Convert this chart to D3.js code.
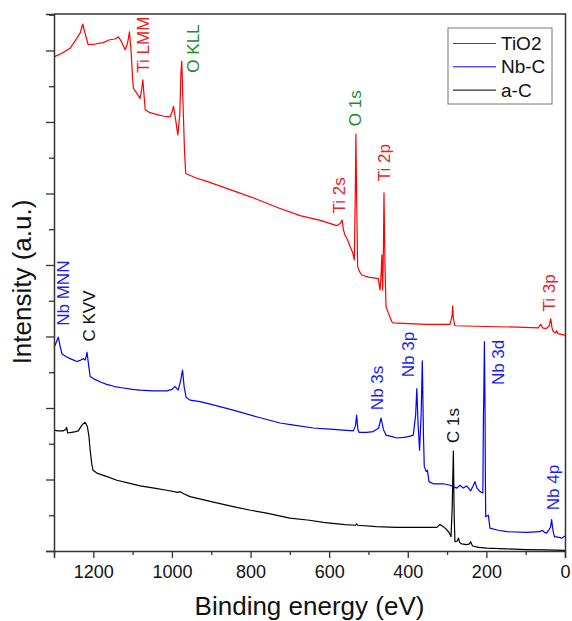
<!DOCTYPE html>
<html>
<head>
<meta charset="utf-8">
<script src="https://cdn.jsdelivr.net/npm/d3@7/dist/d3.min.js"></script>
<style>
  html, body { margin: 0; padding: 0; background: #fff; }
  svg { display: block; font-family: Arial, "Liberation Sans", sans-serif; }
</style>
</head>
<body>
<svg id="chart" width="572" height="621"></svg>
<script>
// ---- data (binding energy eV, intensity a.u.) ----
const seriesNames = ["TiO2", "Nb-C", "a-C"];

const tio2 = [
  [1300,6.91],[1280,6.96],[1259,7.03],[1242,7.17],[1233,7.25],[1227,7.37],[1220,7.22],[1213,7.08],
  [1195,7.09],[1175,7.11],[1158,7.15],[1145,7.16],[1136,7.19],[1128,7.12],[1119,7.01],[1113,7.10],
  [1108,7.26],[1104,7.0],[1100,6.6],[1098,6.47],[1089,6.40],[1081,6.33],[1077,6.45],[1074,6.59],
  [1071,6.38],[1068,6.17],[1056,6.13],[1035,6.10],[1020,6.08],[1005,6.07],[999,6.15],[996,6.22],
  [991,6.05],[985,5.82],[980,6.1],[977,6.7],[975,6.85],[972,6.3],[968,5.6],[965,5.28],[940,5.22],
  [911,5.17],[850,5.05],[784,4.92],[730,4.80],[674,4.69],[620,4.62],[581,4.55],[572,4.58],[567,4.63],
  [564,4.50],[560,4.42],[553,4.35],[547,4.26],[540,4.17],[536,4.07],[533.5,5.0],[532,5.83],[530,4.9],
  [527.5,3.98],[523,3.91],[517,3.86],[500,3.83],[475,3.81],[470.6,3.65],[467.5,3.9],[466,4.14],
  [464.5,3.8],[464,3.65],[462,4.2],[460.5,5.01],[458,4.0],[455.4,3.42],[449.5,3.33],[441,3.21],
  [437,3.19],[400,3.18],[350,3.17],[292.5,3.17],[287,3.3],[285.7,3.43],[284,3.25],[280,3.15],
  [200,3.14],[120,3.13],[68,3.12],[62,3.17],[57,3.12],[48,3.11],[40,3.15],[36.4,3.25],[33,3.12],
  [30,3.07],[24,3.05],[21,3.08],[18,3.04],[0,3.02]
];

const nbc = [
  [1300,2.86],[1297,2.88],[1292,2.95],[1289,2.99],[1285,2.88],[1280,2.76],[1270,2.72],[1259,2.69],
  [1250,2.67],[1242,2.65],[1232,2.67],[1225,2.69],[1221,2.67],[1218,2.72],[1216,2.78],[1212,2.6],
  [1208,2.44],[1196,2.40],[1180,2.36],[1166,2.33],[1145,2.30],[1124,2.28],[1100,2.26],[1081,2.25],
  [1050,2.24],[1013,2.24],[1000,2.26],[992,2.30],[984,2.25],[978,2.38],[973,2.53],[969,2.3],
  [964,2.15],[954,2.11],[928.5,2.09],[900,2.05],[844,1.97],[780,1.87],[725,1.79],[690,1.76],
  [640,1.72],[590,1.70],[538.6,1.68],[533,1.75],[530,1.90],[527,1.70],[524,1.66],[505,1.66],
  [488,1.67],[474,1.72],[468,1.86],[462,1.70],[455,1.62],[440,1.60],[428,1.58],[410,1.59],
  [398.6,1.60],[386,1.62],[380,1.9],[377,2.27],[374,1.8],[370,1.41],[366,1.9],[363,2.66],[360,1.6],
  [358,1.18],[353,1.11],[350,1.13],[346,0.97],[335,0.94],[310,0.94],[292.5,0.92],[275.5,0.88],
  [267,0.92],[259,0.88],[250,0.91],[240,0.84],[233,0.92],[229,0.97],[224,0.88],[216,0.83],
  [209,0.81],[207.5,1.9],[206.5,2.2],[205,2.93],[203.5,2.0],[202.5,1.0],[201.7,0.48],[195,0.50],
  [191,0.32],[170,0.29],[148,0.27],[97.5,0.26],[64,0.27],[58,0.29],[52,0.26],[46.6,0.25],[37,0.33],
  [34,0.44],[31,0.30],[27,0.20],[15,0.19],[8.4,0.18],[3,0.20],[0,0.21]
];

const ac = [
  [1300,1.69],[1290,1.68],[1277,1.68],[1270,1.70],[1268,1.73],[1265,1.65],[1255,1.66],[1245,1.67],
  [1238,1.68],[1229,1.76],[1221,1.80],[1215,1.74],[1211,1.60],[1208,1.41],[1204,1.22],[1201,1.13],
  [1191,1.09],[1165,1.04],[1140,0.99],[1110,0.95],[1081,0.91],[1045,0.88],[1013,0.85],[985,0.82],
  [979,0.83],[970,0.80],[954,0.76],[900,0.69],[844,0.62],[800,0.57],[759,0.53],[700,0.46],
  [650,0.43],[615,0.40],[560,0.37],[533,0.36],[530,0.38],[527,0.36],[480,0.34],[428,0.33],
  [370,0.33],[326,0.33],[318,0.37],[312,0.35],[305,0.32],[298,0.28],[294,0.25],[290,0.20],
  [287,0.60],[284,1.40],[282,0.50],[280,0.13],[274,0.14],[271,0.18],[268,0.12],[263,0.10],
  [250,0.09],[243,0.10],[240,0.13],[237,0.09],[235,0.07],[220,0.05],[199,0.04],[150,0.03],
  [100,0.02],[50,0.015],[0,0.01]
];

const xMajorTicks = [0, 200, 400, 600, 800, 1000, 1200];
const xMinorTicks = [100, 300, 500, 700, 900, 1100, 1300];
const yMajorTicks = [0, 1, 2, 3, 4, 5, 6, 7];
const yMinorTicks = [0.5, 1.5, 2.5, 3.5, 4.5, 5.5, 6.5, 7.5];

// peak annotations: [text, energy eV, intensity where label starts, group]
const peakLabels = [
  ["Ti LMM", 1072.7, 6.69, "Ti"],
  ["O KLL", 945.6, 6.69, "O"],
  ["O 1s", 534, 5.94, "O"],
  ["Ti 2p", 460.4, 5.17, "Ti"],
  ["Ti 2s", 575, 4.72, "Ti"],
  ["Ti 3p", 40.7, 3.35, "Ti"],
  ["Nb MNN", 1277.8, 3.15, "Nb"],
  ["C KVV", 1210, 2.93, "C"],
  ["Nb 3s", 477.5, 1.97, "Nb"],
  ["Nb 3p", 398.6, 2.43, "Nb"],
  ["Nb 3d", 169.7, 2.32, "Nb"],
  ["C 1s", 284, 1.51, "C"],
  ["Nb 4p", 29.8, 0.57, "Nb"]
];

// ---- layout / style ----
const svg = d3.select("#chart");
const L = 54, R = 565, T = 14, B = 551;
const x = d3.scaleLinear().domain([1300, 0]).range([L, R]);
const y = d3.scaleLinear().domain([0, 7.51]).range([B, T]);

const lineColors = {"TiO2": "#ff0000", "Nb-C": "#0000ff", "a-C": "#000000"};
const labelColors = {"Ti": "#e8221e", "O": "#1e8c1e", "Nb": "#1c1cf0", "C": "#111111"};
const axisColor = "#333";

// frame (top and right)
svg.append("path")
  .attr("d", `M${L},${T}H${R + 0.5}V${B}`)
  .attr("fill", "none").attr("stroke", axisColor).attr("stroke-width", 1.5);

// spectra
const line = d3.line().x(d => x(d[0])).y(d => y(d[1]));
const data = {"TiO2": tio2, "Nb-C": nbc, "a-C": ac};
seriesNames.slice().reverse().forEach(name => {
  svg.append("path")
    .datum(data[name])
    .attr("d", line)
    .attr("fill", "none")
    .attr("stroke", lineColors[name])
    .attr("stroke-width", 1.2)
    .attr("stroke-linejoin", "round");
});

// x axis
const gx = svg.append("g").attr("transform", `translate(0,${B})`);
gx.call(d3.axisBottom(x).tickValues(xMajorTicks).tickSize(7).tickPadding(7).tickFormat(d3.format("d")));
gx.append("g").call(d3.axisBottom(x).tickValues(xMinorTicks).tickSize(4).tickFormat(""))
  .select(".domain").remove();
gx.selectAll(".domain").attr("stroke", axisColor).attr("stroke-width", 1.5);
gx.selectAll(".tick line").attr("stroke", axisColor).attr("stroke-width", 1.3);
gx.selectAll(".tick text").attr("font-size", 18).attr("fill", "#111")
  .attr("font-family", "Arial, 'Liberation Sans', sans-serif");

// y axis
const gy = svg.append("g").attr("transform", `translate(${L},0)`);
gy.call(d3.axisLeft(y).tickValues(yMajorTicks).tickSize(8).tickFormat(""));
gy.append("g").call(d3.axisLeft(y).tickValues(yMinorTicks).tickSize(5).tickFormat(""))
  .select(".domain").remove();
gy.selectAll(".domain").attr("stroke", axisColor).attr("stroke-width", 1.5);
gy.selectAll(".tick line").attr("stroke", axisColor).attr("stroke-width", 1.3);

// axis titles
svg.append("text")
  .attr("x", (L + R) / 2).attr("y", 615)
  .attr("text-anchor", "middle").attr("font-size", 26).attr("fill", "#111")
  .text("Binding energy (eV)");
svg.append("text")
  .attr("transform", "translate(31,282) rotate(-90)")
  .attr("text-anchor", "middle").attr("font-size", 26).attr("fill", "#111")
  .text("Intensity (a.u.)");

// peak labels
svg.append("g").selectAll("text").data(peakLabels).join("text")
  .attr("transform", d => `translate(${x(d[1])},${y(d[2])}) rotate(-90)`)
  .attr("dy", "0.35em")
  .attr("font-size", 17)
  .attr("fill", d => labelColors[d[3]])
  .text(d => d[0]);

// legend
const lg = svg.append("g");
lg.append("rect").attr("x", 448).attr("y", 28).attr("width", 104).attr("height", 76)
  .attr("fill", "#fff").attr("stroke", "#777").attr("stroke-width", 1);
seriesNames.forEach((name, i) => {
  const cy = 43.5 + i * 23.3;
  lg.append("line").attr("x1", 453).attr("x2", 496).attr("y1", cy).attr("y2", cy)
    .attr("stroke", lineColors[name]).attr("stroke-width", 1);
  lg.append("text").attr("x", 501).attr("y", cy).attr("dy", "0.35em")
    .attr("font-size", 19).attr("fill", "#111").text(name);
});
</script>
</body>
</html>
